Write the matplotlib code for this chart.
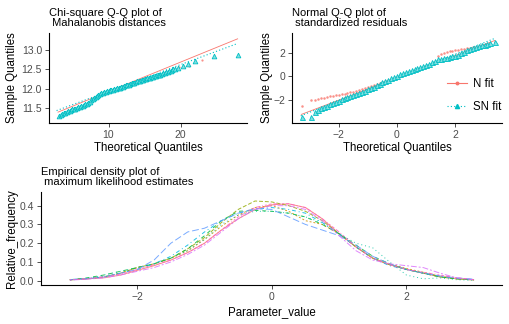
import numpy as np
import matplotlib
matplotlib.use("Agg")
import matplotlib.pyplot as plt
from matplotlib.lines import Line2D

plt.rcParams["font.family"] = ["Liberation Sans", "DejaVu Sans"]

RED = "#F8766D"
CYAN = "#00BFC4"

# ---- Chi-square Q-Q plot of Mahalanobis distances ----
chi_sn_x = [3.2, 3.4, 3.6, 3.8, 4.0, 4.2, 4.4, 4.6, 4.8, 5.0, 5.2, 5.4, 5.6, 5.8,
            6.0, 6.2, 6.4, 6.6, 6.8, 7.0, 7.2, 7.4, 7.6, 7.8, 8.0, 8.2, 8.4, 8.6,
            8.8, 9.0, 9.2, 9.4, 9.6, 9.8, 10.0, 10.2, 10.4, 10.6, 10.8, 11.0, 11.2,
            11.4, 11.6, 11.8, 12.0, 12.2, 12.4, 12.6, 12.8, 13.0, 13.2, 13.4, 13.6,
            13.8, 14.0, 14.2, 14.4, 14.6, 14.8, 15.0, 15.2, 15.4, 15.6, 15.8, 16.0,
            16.2, 16.4, 16.6, 16.8, 17.0, 17.2, 17.4, 17.6, 17.8, 18.0, 18.2, 18.4,
            18.6, 18.8, 19.0, 19.2, 19.7, 20.3, 21.0, 22.0, 24.6, 27.9]
chi_sn_y = [11.29, 11.33, 11.34, 11.37, 11.37, 11.41, 11.43, 11.43, 11.45, 11.47,
            11.47, 11.49, 11.50, 11.52, 11.53, 11.55, 11.56, 11.59, 11.60, 11.62,
            11.64, 11.67, 11.70, 11.73, 11.76, 11.79, 11.81, 11.85, 11.87, 11.89,
            11.90, 11.92, 11.93, 11.94, 11.95, 11.96, 11.97, 11.98, 11.99, 12.00,
            12.01, 12.02, 12.03, 12.05, 12.06, 12.07, 12.09, 12.10, 12.11, 12.13,
            12.14, 12.15, 12.16, 12.18, 12.19, 12.20, 12.21, 12.22, 12.23, 12.25,
            12.26, 12.27, 12.28, 12.29, 12.30, 12.31, 12.32, 12.34, 12.35, 12.36,
            12.37, 12.38, 12.40, 12.41, 12.43, 12.44, 12.45, 12.47, 12.48, 12.50,
            12.51, 12.54, 12.59, 12.64, 12.72, 12.85, 12.87]
chi_n_x = [3.2, 4.0, 4.8, 5.6, 6.4, 7.2, 8.0, 8.8, 9.6, 10.4, 11.2, 12.0, 12.8,
           13.6, 14.4, 15.2, 16.0, 16.8, 17.6, 18.4, 19.2, 19.8, 20.5, 21.1, 23.0]
chi_n_y = [11.30, 11.38, 11.44, 11.49, 11.55, 11.63, 11.75, 11.86, 11.92, 11.97,
           12.00, 12.05, 12.10, 12.15, 12.20, 12.25, 12.29, 12.34, 12.39, 12.44,
           12.49, 12.56, 12.57, 12.59, 12.74]
chi_n_line_x = [3.0, 27.9]
chi_n_line_y = [11.40, 13.29]
chi_sn_line_x = [2.8, 27.9]
chi_sn_line_y = [11.44, 13.17]

# ---- Normal Q-Q plot of standardized residuals ----
qq_x = [-3.26, -2.96, -2.8, -2.7, -2.6, -2.5, -2.4, -2.3, -2.2, -2.1, -2.0, -1.9,
        -1.8, -1.7, -1.6, -1.5, -1.4, -1.3, -1.2, -1.1, -1.0, -0.9, -0.8, -0.7,
        -0.6, -0.5, -0.4, -0.3, -0.2, -0.1, 0.0, 0.1, 0.2, 0.3, 0.4, 0.5, 0.6,
        0.7, 0.8, 0.9, 1.0, 1.1, 1.2, 1.3, 1.4, 1.5, 1.6, 1.7, 1.8, 1.9, 2.0,
        2.1, 2.2, 2.3, 2.4, 2.5, 2.6, 2.7, 2.8, 2.9, 3.0, 3.1, 3.2, 3.36]
qq_sn_y = [-3.42, -3.42, -3.0, -2.85, -2.72, -2.6, -2.48, -2.37, -2.26, -2.15,
           -2.05, -1.94, -1.85, -1.76, -1.68, -1.6, -1.5, -1.42, -1.32, -1.2,
           -1.1, -0.98, -0.86, -0.74, -0.62, -0.5, -0.38, -0.26, -0.14, -0.03,
           0.07, 0.18, 0.28, 0.38, 0.47, 0.56, 0.65, 0.74, 0.83, 0.91, 1.0, 1.1,
           1.22, 1.33, 1.45, 1.5, 1.55, 1.6, 1.65, 1.71, 1.78, 1.86, 1.96, 2.1,
           2.24, 2.35, 2.43, 2.51, 2.58, 2.65, 2.72, 2.78, 2.84, 2.95]
qq_n_y = [-2.51, -2.03, -1.96, -1.92, -1.86, -1.8, -1.75, -1.70, -1.65, -1.6,
          -1.55, -1.5, -1.45, -1.4, -1.34, -1.28, -1.22, -1.15, -1.08, -1.0,
          -0.92, -0.84, -0.76, -0.68, -0.59, -0.5, -0.41, -0.32, -0.22, -0.12,
          -0.03, 0.07, 0.16, 0.26, 0.35, 0.44, 0.53, 0.62, 0.71, 0.80, 0.89,
          0.98, 1.08, 1.2, 1.75, 1.95, 2.04, 2.1, 2.15, 2.2, 2.24, 2.28, 2.32,
          2.36, 2.4, 2.44, 2.48, 2.53, 2.58, 2.64, 2.7, 2.77, 2.84, 2.95]
qq_n_line_x = [-3.28, 3.35]
qq_n_line_y = [-3.23, 3.06]
qq_sn_line_x = [-3.3, 3.36]
qq_sn_line_y = [-3.35, 3.25]

# ---- Empirical density of ML estimates ----
dens_x = [-3.0, -2.75, -2.5, -2.25, -2.0, -1.75, -1.5, -1.25, -1.0, -0.75, -0.5,
          -0.25, 0.0, 0.25, 0.5, 0.75, 1.0, 1.25, 1.5, 1.75, 2.0, 2.25, 2.5,
          2.75, 3.0]
dens_curves = [
    [0.005, 0.01, 0.015, 0.03, 0.055, 0.08, 0.11, 0.15, 0.20, 0.27, 0.33, 0.38,
     0.405, 0.41, 0.39, 0.33, 0.25, 0.18, 0.12, 0.085, 0.06, 0.04, 0.02, 0.01, 0.004],
    [0.005, 0.01, 0.02, 0.04, 0.07, 0.09, 0.12, 0.16, 0.22, 0.29, 0.35, 0.39,
     0.40, 0.37, 0.32, 0.30, 0.25, 0.18, 0.12, 0.09, 0.065, 0.045, 0.025, 0.01, 0.005],
    [0.004, 0.01, 0.02, 0.04, 0.07, 0.09, 0.12, 0.17, 0.23, 0.31, 0.38, 0.425,
     0.42, 0.40, 0.37, 0.32, 0.25, 0.18, 0.12, 0.085, 0.06, 0.04, 0.02, 0.01, 0.004],
    [0.005, 0.015, 0.03, 0.05, 0.07, 0.09, 0.12, 0.17, 0.24, 0.32, 0.37, 0.375,
     0.37, 0.36, 0.34, 0.30, 0.25, 0.19, 0.13, 0.09, 0.06, 0.04, 0.02, 0.01, 0.004],
    [0.004, 0.01, 0.03, 0.05, 0.07, 0.09, 0.12, 0.16, 0.22, 0.30, 0.35, 0.37,
     0.37, 0.36, 0.34, 0.31, 0.25, 0.20, 0.175, 0.10, 0.03, 0.01, 0.015, 0.005, 0.002],
    [0.006, 0.012, 0.02, 0.04, 0.06, 0.09, 0.13, 0.19, 0.26, 0.32, 0.36, 0.38,
     0.39, 0.38, 0.36, 0.31, 0.25, 0.18, 0.12, 0.08, 0.06, 0.04, 0.025, 0.012, 0.006],
    [0.005, 0.01, 0.02, 0.04, 0.06, 0.11, 0.20, 0.26, 0.28, 0.32, 0.36, 0.385,
     0.38, 0.34, 0.30, 0.27, 0.24, 0.19, 0.13, 0.09, 0.06, 0.04, 0.025, 0.015, 0.008],
    [0.003, 0.008, 0.015, 0.03, 0.05, 0.07, 0.10, 0.14, 0.19, 0.26, 0.33, 0.38,
     0.40, 0.40, 0.38, 0.32, 0.24, 0.16, 0.11, 0.09, 0.08, 0.07, 0.04, 0.015, 0.005],
    [0.005, 0.01, 0.02, 0.035, 0.06, 0.085, 0.11, 0.15, 0.20, 0.27, 0.34, 0.39,
     0.41, 0.41, 0.39, 0.33, 0.26, 0.18, 0.12, 0.085, 0.06, 0.045, 0.03, 0.015, 0.006],
]
dens_colors = ["#F8766D", "#D39200", "#93AA00", "#00BA38", "#00C19F",
               "#00B9E3", "#619CFF", "#DB72FB", "#FF61C3"]
dens_styles = ["-", (0, (2, 2)), (0, (4, 2)), (0, (4, 4)), (0, (1, 3)),
               (0, (1, 3, 4, 3)), (0, (7, 3)), (0, (2, 2, 6, 2)),
               (0, (1, 2, 2, 2, 3, 2, 4, 2))]

W, H = 509, 324
fig = plt.figure(figsize=(W / 100, H / 100), dpi=100)


def px_axes(left, top, right, bottom):
    return fig.add_axes([left / W, 1 - bottom / H, (right - left) / W, (bottom - top) / H])


def style(ax):
    for s in ["top", "right"]:
        ax.spines[s].set_visible(False)
    for s in ["left", "bottom"]:
        ax.spines[s].set_linewidth(0.8)
        ax.spines[s].set_color("black")
    ax.tick_params(direction="out", length=3, width=0.6, color="#333333",
                   labelcolor="#4D4D4D", labelsize=7.5, pad=2)


def labels(ax, xlab, ylab, xpos, ypos):
    ax.set_xlabel(xlab, fontsize=8.3)
    ax.set_ylabel(ylab, fontsize=8.3)
    ax.xaxis.set_label_coords(0.5, xpos)
    ax.yaxis.set_label_coords(ypos, 0.5)
    ax.xaxis.label.set_verticalalignment("center")
    ax.yaxis.label.set_verticalalignment("center")


def title(ax, text):
    ax.text(0, 1.05, text, transform=ax.transAxes, ha="left", va="bottom",
            fontsize=8.0, color="black", linespacing=1.0)


# top-left
ax1 = px_axes(49, 33, 247, 123)
style(ax1)
ax1.plot(chi_n_line_x, chi_n_line_y, color=RED, lw=0.6)
ax1.plot(chi_sn_line_x, chi_sn_line_y, color=CYAN, lw=0.8, ls=(0, (1, 2)))
ax1.plot(chi_n_x, chi_n_y, "o", color=RED, ms=1.6, alpha=0.8, mew=0)
ax1.plot(chi_sn_x, chi_sn_y, "^", color=CYAN, ms=3.4, mfc="#7FDFE1", mec=CYAN, mew=0.6)
ax1.set_xlim(1.75, 29.2)
ax1.set_ylim(11.12, 13.44)
ax1.set_xticks([10, 20])
ax1.set_yticks([11.5, 12.0, 12.5, 13.0])
ax1.set_yticklabels(["11.5", "12.0", "12.5", "13.0"])
labels(ax1, "Theoretical Quantiles", "Sample Quantiles", -0.283, -0.187)
title(ax1, "Chi-square Q-Q plot of\n Mahalanobis distances")

# top-right
ax2 = px_axes(292, 33, 502, 123)
style(ax2)
ax2.plot(qq_n_line_x, qq_n_line_y, color=RED, lw=0.6)
ax2.plot(qq_sn_line_x, qq_sn_line_y, color=CYAN, lw=0.8, ls=(0, (1, 2)))
ax2.plot(qq_x, qq_n_y, "o", color=RED, ms=1.8, alpha=0.8, mew=0)
ax2.plot(qq_x, qq_sn_y, "^", color=CYAN, ms=3.6, mfc="#7FDFE1", mec=CYAN, mew=0.6)
ax2.set_xlim(-3.6, 3.6)
ax2.set_ylim(-3.96, 3.7)
ax2.set_xticks([-2, 0, 2])
ax2.set_yticks([-2, 0, 2])
labels(ax2, "Theoretical Quantiles", "Sample Quantiles", -0.283, -0.117)
title(ax2, "Normal Q-Q plot of\n standardized residuals")
handles = [Line2D([], [], color=RED, lw=0.8, marker="o", ms=1.8),
           Line2D([], [], color=CYAN, lw=0.8, ls=(0, (1, 2)), marker="^", ms=3)]
ax2.legend(handles, ["N fit", "SN fit"], loc="center left",
           bbox_to_anchor=(0.738, 0.31), frameon=False, fontsize=8.3,
           handlelength=1.7, labelspacing=0.95, handletextpad=0.55,
           borderpad=0, borderaxespad=0)

# bottom
ax3 = px_axes(41, 192, 502, 285)
style(ax3)
for ys, c, ls in zip(dens_curves, dens_colors, dens_styles):
    ax3.plot(dens_x, ys, color=c, ls=ls, lw=0.7, alpha=0.85)
ax3.set_xlim(-3.43, 3.42)
ax3.set_ylim(-0.023, 0.473)
ax3.set_xticks([-2, 0, 2])
ax3.set_yticks([0.0, 0.1, 0.2, 0.3, 0.4])
ax3.set_yticklabels(["0.0", "0.1", "0.2", "0.3", "0.4"])
labels(ax3, "Parameter_value", "Relative_frequency", -0.287, -0.063)
title(ax3, "Empirical density plot of\n maximum likelihood estimates")

fig.savefig("out.png", dpi=100)
